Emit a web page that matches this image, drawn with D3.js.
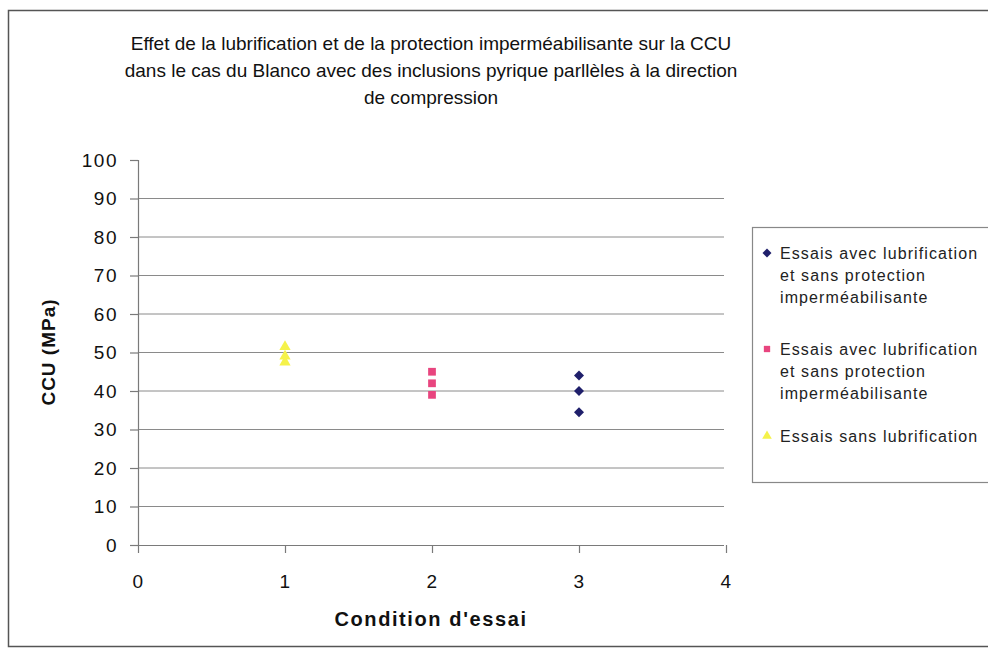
<!DOCTYPE html>
<html>
<head>
<meta charset="utf-8">
<script src="https://cdn.jsdelivr.net/npm/d3@7"></script>
<style>
  body { margin: 0; background: #fff; }
  svg { font-family: "Liberation Sans", Arial, sans-serif; }
</style>
</head>
<body>
<div id="chart"></div>
<script>
'use strict';

// data
var titleLines = [
    "Effet de la lubrification et de la protection imperméabilisante sur la CCU",
    "dans le cas du Blanco avec des inclusions pyrique parllèles à la direction",
    "de compression"
];
var seriesNames = [
    ["Essais avec lubrification", "et sans protection", "imperméabilisante"],
    ["Essais avec lubrification", "et sans protection", "imperméabilisante"],
    ["Essais sans lubrification"]
];
var seriesColors = ["#1f1f6b", "#e8457f", "#f5f24a"];
var seriesX = [3, 2, 1];
var navyValues = [44, 40, 34.5];
var pinkValues = [45, 42, 39];
var yellowValues = [51.5, 49, 47.5];
var seriesValues = [navyValues, pinkValues, yellowValues];
var xTicks = [0, 1, 2, 3, 4];
var yTicks = [0, 10, 20, 30, 40, 50, 60, 70, 80, 90, 100];

var width = 988, height = 649;
var svg = d3.select('#chart').append('svg')
    .attr('width', width)
    .attr('height', height);

// marker for each series: rotated square, square, triangle
var symbolFor = function(i, size) {
    if (i === 2) return d3.symbol().type(d3.symbolTriangle).size(size)();
    return d3.symbol().type(d3.symbolSquare).size(size)();
};

// outer frame
svg.append('rect')
    .attr('x', 8.5).attr('y', 10.5)
    .attr('width', 990).attr('height', 636)
    .attr('fill', '#fff').attr('stroke', '#555').attr('stroke-width', 1.5);

var x = d3.scaleLinear().domain([0, 4]).range([138, 726]);
var y = d3.scaleLinear().domain([0, 100]).range([545, 160]);

// gridlines
svg.append('g')
    .selectAll('line')
    .data(yTicks.filter(function(d) { return d > 0 && d < 100; }))
    .enter().append('line')
    .attr('x1', x(0)).attr('x2', 724)
    .attr('y1', function(d) { return y(d); })
    .attr('y2', function(d) { return y(d); })
    .attr('stroke', '#8a8a8a').attr('stroke-width', 1);

// axes
var yAxis = svg.append('g')
    .attr('transform', 'translate(' + x(0) + ',0)')
    .call(d3.axisLeft(y).tickValues(yTicks).tickSize(8).tickPadding(12));
var xAxis = svg.append('g')
    .attr('transform', 'translate(0,' + y(0) + ')')
    .call(d3.axisBottom(x).tickValues(xTicks).tickFormat(d3.format('d'))
        .tickSize(8).tickPadding(22));
xAxis.select('.domain').attr('d', 'M' + x(0) + ',0.5H724');

[yAxis, xAxis].forEach(function(a) {
    a.selectAll('.domain, line').attr('stroke', '#7a7a7a').attr('stroke-width', 1.2);
    a.selectAll('text').attr('font-size', 19).attr('fill', '#111')
        .attr('letter-spacing', 1.5)
        .attr('font-family', '"Liberation Sans", Arial, sans-serif');
});

// titles
svg.append('text')
    .attr('x', 431).attr('y', 50)
    .attr('text-anchor', 'middle').attr('font-size', 19).attr('fill', '#111')
    .selectAll('tspan')
    .data(titleLines)
    .enter().append('tspan')
    .attr('x', 431)
    .attr('dy', function(d, i) { return i === 0 ? 0 : 27; })
    .text(function(d) { return d; });

svg.append('text')
    .attr('x', 431).attr('y', 626)
    .attr('text-anchor', 'middle').attr('font-size', 20).attr('font-weight', 'bold')
    .attr('letter-spacing', 1.6)
    .attr('fill', '#111')
    .text("Condition d'essai");

svg.append('text')
    .attr('transform', 'translate(55,352) rotate(-90)')
    .attr('text-anchor', 'middle').attr('font-size', 19).attr('font-weight', 'bold')
    .attr('letter-spacing', 1)
    .attr('fill', '#111')
    .text('CCU (MPa)');

// points
seriesValues.forEach(function(vals, i) {
    svg.append('g')
        .selectAll('path')
        .data(vals)
        .enter().append('path')
        .attr('transform', function(d) {
            return 'translate(' + x(seriesX[i]) + ',' + y(d) + ')' +
                (i === 0 ? ' rotate(45)' : '');
        })
        .attr('d', symbolFor(i, i === 0 ? 50 : i === 1 ? 60 : 55))
        .attr('fill', seriesColors[i]);
});

// legend
var legend = svg.append('g');
legend.append('rect')
    .attr('x', 752.5).attr('y', 227.5)
    .attr('width', 260).attr('height', 255)
    .attr('fill', '#fff').attr('stroke', '#888').attr('stroke-width', 1.2);

var legendY = [259, 355, 442];
seriesNames.forEach(function(lines, i) {
    legend.append('path')
        .attr('transform', 'translate(767,' + (legendY[i] - 6) + ')' +
            (i === 0 ? ' rotate(45)' : ''))
        .attr('d', symbolFor(i, 40))
        .attr('fill', seriesColors[i]);
    legend.append('text')
        .attr('y', legendY[i]).attr('font-size', 16).attr('fill', '#222')
        .attr('letter-spacing', 1.1)
        .selectAll('tspan')
        .data(lines)
        .enter().append('tspan')
        .attr('x', 780)
        .attr('dy', function(d, j) { return j === 0 ? 0 : 22; })
        .text(function(d) { return d; });
});
</script>
</body>
</html>
